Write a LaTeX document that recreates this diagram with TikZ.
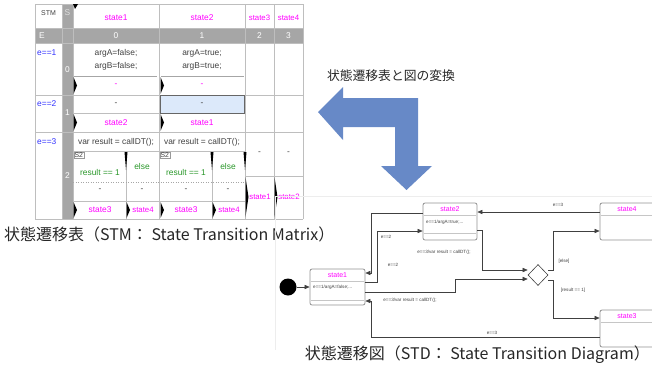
\documentclass[tikz,border=0pt]{standalone}
\usepackage{fontspec}
\setmainfont{Liberation Sans}
\newfontfamily\jpfont{Noto Sans CJK JP}
\usetikzlibrary{arrows.meta,shapes.geometric}
\definecolor{mag}{RGB}{255,0,255}
\definecolor{eblue}{RGB}{51,51,255}
\definecolor{grn}{RGB}{40,150,40}
\definecolor{sgrey}{RGB}{166,166,166}
\definecolor{gridc}{RGB}{190,190,190}
\definecolor{txt}{RGB}{64,64,64}
\definecolor{bigblue}{RGB}{103,137,199}
\definecolor{hl}{RGB}{220,233,250}
\definecolor{capc}{RGB}{38,38,38}
\begin{document}
\begin{tikzpicture}[x=1pt,y=-1pt,
  tt/.style={font=\fontsize{8.4}{9}\selectfont, text=txt, inner sep=0pt},
  st/.style={tt, text=mag},
  wt/.style={tt, text=white},
  bt/.style={tt, text=eblue, anchor=west},
  gt/.style={tt, text=grn},
  grid/.style={draw=gridc, line width=0.6pt},
  tiny/.style={font=\fontsize{4.6}{5}\selectfont, text=txt, inner sep=0pt},
  stbox/.style={draw=gray!85, line width=0.8pt, rounded corners=2pt, fill=white, inner sep=0pt},
  sttitle/.style={font=\fontsize{7}{8}\selectfont, text=mag, inner sep=0pt},
  sep/.style={draw=gray!45, line width=0.5pt},
  conn/.style={draw=txt, line width=0.55pt, -{Triangle[length=5pt,width=4.2pt]}},
  captext/.style={font=\jpfont\fontsize{16}{18}\selectfont, text=capc, inner sep=0pt}
]
\useasboundingbox (0,0) rectangle (652,372);

% ================= STM table =================
\fill[sgrey] (62,4) rectangle (73,219);
\fill[sgrey] (35,28) rectangle (303,43);
\fill[hl] (159.5,95) rectangle (245,113);

% horizontal grid
\foreach \yy in {4,28,43,95,132,219} \draw[grid] (35,\yy) -- (303,\yy);
% vertical grid
\foreach \xx in {35,62,73,159,245,274,303} \draw[grid] (\xx,4) -- (\xx,219);

% e==1 separators
\draw[draw=gray!70, line width=1pt] (74,76) -- (157,76);
\draw[draw=gray!70, line width=1pt] (161,76) -- (244,76);
% e==2 separator
\draw[grid] (73,113) -- (245,113);
\draw[draw=gray!80!black, line width=0.8pt] (160,95.5) rectangle (244.5,113);
% e==3 inner lines
\draw[grid] (73,151) -- (245,151);
\draw[grid] (126,151) -- (126,219);
\draw[grid] (212,151) -- (212,219);
\draw[draw=gray!70, line width=0.5pt, dotted] (73,182) -- (245,182);
\draw[grid] (73,201) -- (245,201);
\draw[grid] (245,176) -- (303,176);

% black markers
\fill (73,4) -- (78,4) -- (75,9) -- cycle;
\foreach \xx in {73.5,160.5} {
  \fill (\xx,77) -- (\xx+3.5,85.5) -- (\xx,94) -- cycle;
  \fill (\xx,114) -- (\xx+3.5,122.5) -- (\xx,131) -- cycle;
}
\foreach \xx in {73.5,126.5,160.5,212.5} \fill (\xx,202) -- (\xx+3.5,210) -- (\xx,218) -- cycle;
\foreach \xx in {126,212,245} \fill (\xx-1.5,152) -- (\xx+1.5,152) -- (\xx,170) -- cycle;
\foreach \xx in {245.5,274.5} \fill (\xx,177) -- (\xx+3,197) -- (\xx,217) -- cycle;

% S2 boxes
\node[draw=gray!80, fill=white, font=\fontsize{6.8}{7}\selectfont, text=txt, inner sep=1pt, anchor=north west] (s2a) at (73.5,151.5) {S2};
\node[draw=gray!80, fill=white, font=\fontsize{6.8}{7}\selectfont, text=txt, inner sep=1pt, anchor=north west] (s2b) at (159.5,151.5) {S2};

% header texts
\node[tt, font=\fontsize{7}{7}\selectfont] (hSTM) at (48.5,13) {STM};
\node[tt, text=white!88!black] (hS) at (67.5,13) {S};
\node[st] (h1) at (116,18) {state1};
\node[st] (h2) at (202,18) {state2};
\node[st, font=\fontsize{7.8}{8}\selectfont] (h3) at (259.5,18) {state3};
\node[st, font=\fontsize{7.8}{8}\selectfont] (h4) at (288.5,18) {state4};
\node[wt] (hE) at (42,35.5) {E};
\node[wt] (e0) at (116,35.5) {0};
\node[wt] (e1) at (202,35.5) {1};
\node[wt] (e2) at (259.5,35.5) {2};
\node[wt] (e3) at (288.5,35.5) {3};
% row labels
\node[bt] (r1) at (37,53) {e==1};
\node[bt] (r2) at (37,104) {e==2};
\node[bt] (r3) at (37,142) {e==3};
\node[wt] (n0) at (67.5,70) {0};
\node[wt] (n1) at (67.5,113) {1};
\node[wt] (n2) at (67.5,176) {2};
% e==1
\node[tt] (a1) at (116,53) {argA=false;};
\node[tt] (b1) at (116,66) {argB=false;};
\node[tt] (a2) at (202,53) {argA=true;};
\node[tt] (b2) at (202,66) {argB=true;};
\node[st] (d1) at (116,85) {-};
\node[st] (d2) at (202,85) {-};
% e==2
\node[tt] (d3) at (116,104) {-};
\node[tt] (d4) at (202,104) {-};
\node[st] (n21) at (116,122.5) {state2};
\node[st] (n22) at (202,122.5) {state1};
% e==3
\node[tt] (v1) at (116,142) {var result = callDT();};
\node[tt] (v2) at (202,142) {var result = callDT();};
\node[gt] (g1) at (100,172) {result == 1};
\node[gt] (g2) at (142,166) {else};
\node[gt] (g3) at (186,172) {result == 1};
\node[gt] (g4) at (228,166) {else};
\node[tt] (m1) at (100,190.5) {-};
\node[tt] (m2) at (142,190.5) {-};
\node[tt] (m3) at (186,190.5) {-};
\node[tt] (m4) at (228,190.5) {-};
\node[st] (q1) at (100,210) {state3};
\node[st, font=\fontsize{7.8}{8}\selectfont] (q2) at (143,210) {state4};
\node[st] (q3) at (186,210) {state3};
\node[st, font=\fontsize{7.8}{8}\selectfont] (q4) at (229,210) {state4};
\node[tt] (m5) at (259.5,153.5) {-};
\node[tt] (m6) at (288.5,153.5) {-};
\node[st, font=\fontsize{7.8}{8}\selectfont] (q5) at (260,197) {state1};
\node[st, font=\fontsize{7.8}{8}\selectfont] (q6) at (289,197) {state2};

% caption STM
\node[captext, anchor=west] (capSTM) at (4,234) {状態遷移表（STM： State Transition Matrix）};

% ================= big arrow =================
\fill[bigblue] (318,112) -- (343,87) -- (343,98) -- (418,98) -- (418,166) -- (432,166)
  -- (406.5,190) -- (381,166) -- (395,166) -- (395,127) -- (343,127) -- (343,140) -- cycle;
\node[font=\jpfont\fontsize{12.8}{14}\selectfont, text=capc, inner sep=0pt] (conv) at (391,76) {状態遷移表と図の変換};

% ================= STD =================
\draw[draw=black!7, line width=0.6pt] (275,350) -- (275,196) -- (655,196);

\node[circle, fill=black, minimum size=17pt, inner sep=0pt] (init) at (288,287) {};

\node[stbox, minimum width=55pt, minimum height=36pt] (s1) at (337.5,287) {};
\node[stbox, minimum width=54pt, minimum height=37pt] (s2) at (450,221.5) {};
\node[stbox, minimum width=60pt, minimum height=37pt] (s4) at (630,221.5) {};
\node[stbox, minimum width=60pt, minimum height=37pt] (s3) at (630,328.5) {};
\node[diamond, draw=txt, line width=0.6pt, fill=white, minimum width=20pt, minimum height=21pt, inner sep=0pt] (dm) at (538,275) {};

% state internals
\node[sttitle] (s1t) at (337.5,275) {state1};
\draw[sep] (311,281) -- (364,281);
\draw[sep] (311,300) -- (364,300);
\node[tiny, anchor=west] (s1x) at (313,287) {e==1/argA=false;...};
\node[sttitle] (s2t) at (450,209.5) {state2};
\draw[sep] (424,215) -- (476,215);
\draw[sep] (424,233) -- (476,233);
\node[tiny, anchor=west] (s2x) at (426,222) {e==1/argA=true;...};
\node[sttitle] (s4t) at (627,209.5) {state4};
\draw[sep] (601,215) -- (659,215);
\node[sttitle] (s3t) at (627,316.5) {state3};
\draw[sep] (601,322) -- (659,322);

% connectors
\draw[conn] (init) -- (s1);
\draw[conn] (s4.west |- 0,212) -- (s2.east |- 0,212);
\draw[conn] (s2.west |- 0,213) -- (371,213) -- (371,273) -- (s1.east |- 0,273);
\draw[conn] (s1.east |- 0,282) -- (377,282) -- (377,231) -- (s2.west |- 0,231);
\draw[conn] (s1.east |- 0,292) -- (455,292) -- (455,279) -- (dm.west |- 0,279);
\draw[conn] (s2.east |- 0,230) -- (482,230) -- (482,270) -- (dm.west |- 0,270);
\draw[conn] (dm.east |- 0,270) -- (553,270) -- (553,231) -- (s4.west |- 0,231);
\draw[conn] (dm.east |- 0,280) -- (553,280) -- (553,318) -- (s3.west |- 0,318);
\draw[conn] (s3.west |- 0,337) -- (371,337) -- (371,301) -- (s1.east |- 0,301);

% connector labels
\node[tiny] (l1) at (558,205) {e==3};
\node[tiny] (l2) at (386,237) {e==2};
\node[tiny] (l3) at (444,252) {e==3/var result = callDT();};
\node[tiny] (l4) at (393,265) {e==2};
\node[tiny] (l5) at (410,300) {e==3/var result = callDT();};
\node[tiny] (l6) at (564,261) {[else]};
\node[tiny] (l7) at (573,290) {[result == 1]};
\node[tiny] (l8) at (492,333) {e==3};

% caption STD
\node[captext, anchor=east] (capSTD) at (650,355) {状態遷移図（STD： State Transition Diagram）};
\end{tikzpicture}
\end{document}
